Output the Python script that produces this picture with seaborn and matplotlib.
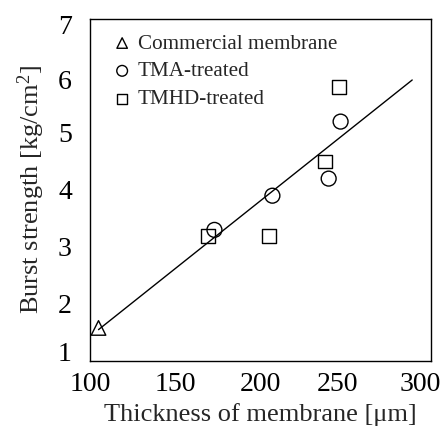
import matplotlib
matplotlib.use("Agg")
import matplotlib.pyplot as plt
import matplotlib.transforms as mtrans
import seaborn as sns
import pandas as pd

commercial_x = [105]
commercial_y = [1.58]
tma_x = [173, 207, 240, 247]
tma_y = [3.3, 3.9, 4.2, 5.2]
tmhd_x = [169, 205, 238, 246]
tmhd_y = [3.2, 3.2, 4.5, 5.8]
fit_x = [105, 289]
fit_y = [1.55, 5.93]
x_ticks = [100, 150, 200, 250, 300]
y_ticks = [1, 2, 3, 4, 5, 6, 7]

sns.set_style("white")
plt.rcParams['font.family'] = ['Liberation Serif', 'DejaVu Serif']
plt.rcParams['mathtext.fontset'] = 'custom'
plt.rcParams['mathtext.rm'] = 'Liberation Serif'

fig = plt.figure(figsize=(4.42, 4.30), dpi=100)
ax = fig.add_axes([0.2036, 0.1605, 0.7714, 0.7953])

sns.lineplot(x=fit_x, y=fit_y, ax=ax, color='black', linewidth=1.0)

groups = [
    ("Commercial membrane", commercial_x, commercial_y, '^', 110),
    ("TMA-treated", tma_x, tma_y, 'o', 115),
    ("TMHD-treated", tmhd_x, tmhd_y, 's', 100),
]
for name, xs, ys, m, s in groups:
    df = pd.DataFrame({"x": xs, "y": ys})
    sns.scatterplot(data=df, x="x", y="y", ax=ax, marker=m, s=s,
                    facecolor='none', edgecolor='black', linewidth=1.0,
                    label=name, zorder=3)

ax.set_xlim(100, 300)
ax.set_ylim(1, 7)
ax.set_xticks(x_ticks)
ax.set_yticks(y_ticks)
ax.tick_params(direction='in', length=5, width=1, labelsize=20, colors='black')
ax.tick_params(axis='x', pad=8)
ax.tick_params(axis='y', pad=13)
for sp in ax.spines.values():
    sp.set_color('black')
    sp.set_linewidth(1.0)
ax.set_xlabel(r"Thickness of membrane [μm]", fontsize=19, labelpad=4)
ax.set_ylabel(r"Burst strength [kg/cm$\mathregular{^2}$]", fontsize=19, labelpad=8)

# nudge edge tick labels inward, as in the reference
xshifts = {3: -8, 4: -11}
for i, lab in enumerate(ax.get_xticklabels()):
    if i in xshifts:
        lab.set_transform(lab.get_transform() +
                          mtrans.ScaledTranslation(xshifts[i] / 100, 0, fig.dpi_scale_trans))
yshifts = {0: 9, 5: -3, 6: -5}
for i, lab in enumerate(ax.get_yticklabels()):
    if i in yshifts:
        lab.set_transform(lab.get_transform() +
                          mtrans.ScaledTranslation(0, yshifts[i] / 100, fig.dpi_scale_trans))

leg = ax.legend(loc='upper left', frameon=False, fontsize=15.2, markerscale=0.72,
                handletextpad=0.25, labelspacing=0.38, borderaxespad=0.3,
                handlelength=1.0, bbox_to_anchor=(0.02, 1.0))

fig.savefig("out.png", dpi=100)
